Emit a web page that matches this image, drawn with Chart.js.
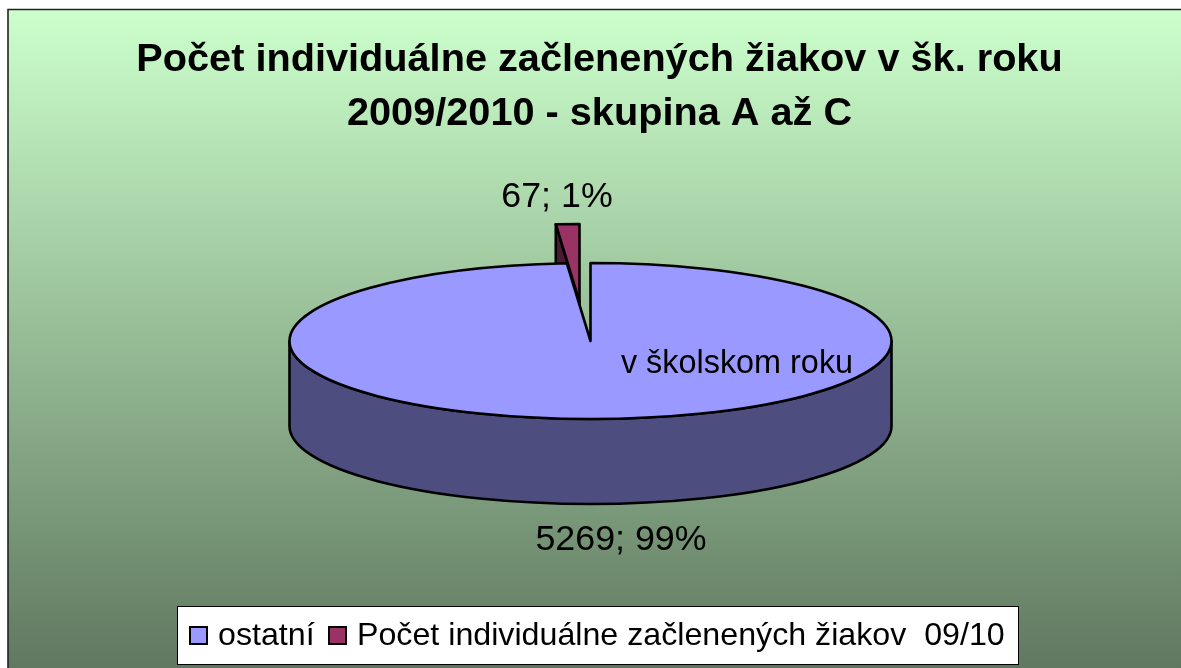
<!DOCTYPE html>
<html><head><meta charset="utf-8">
<style>html,body{margin:0;padding:0;background:#fff}canvas{display:block}</style>
<script src="https://cdn.jsdelivr.net/npm/chart.js@4"></script>
</head><body><canvas id="c" width="1181" height="668"></canvas>
<script>
const categories = ['ostatní', 'Počet individuálne začlenených žiakov  09/10'];
const values = [5269, 67];
const percentLabels = ['99%', '1%'];
const titleLines = ['Počet individuálne začlenených žiakov v šk. roku', '2009/2010 - skupina A až C'];
const seriesName = 'v školskom roku';
const topColors = ['#9999FF', '#993366'];
const wallColors = ['#4D4D80', '#4D1A33'];

const FONT = '"Liberation Sans", Arial, sans-serif';
const PIE = {cx: 590.5, cy: 341, r: 301, squash: 78 / 301, depth: 85, exDx: -11, exDy: -39};
const LABELS = [{x: 621, y: 540}, {x: 557, y: 197}];
const LINE = 2.6;

function place(ctx, a, dx, dy) {
  ctx.translate(PIE.cx + dx, PIE.cy + dy);
  ctx.scale(1, PIE.squash);
  ctx.translate(-a.x, -a.y);
}
function strokeIso(ctx, w) { ctx.lineWidth = w; ctx.strokeStyle = '#000'; ctx.lineJoin = 'round'; ctx.stroke(); }
function drawTop(ctx, a, dx, dy) {
  ctx.save(); place(ctx, a, dx, dy); a.draw(ctx);
  ctx.beginPath(); ctx.moveTo(a.x, a.y); ctx.arc(a.x, a.y, a.outerRadius, a.startAngle, a.endAngle); ctx.closePath();
  ctx.restore(); strokeIso(ctx, LINE);
}
function frontWall(ctx, a, color) {
  ctx.beginPath();
  ctx.save(); place(ctx, a, 0, PIE.depth); ctx.arc(a.x, a.y, a.outerRadius, 0, Math.PI); ctx.restore();
  ctx.save(); place(ctx, a, 0, 0); ctx.arc(a.x, a.y, a.outerRadius, Math.PI, 0, true); ctx.restore();
  ctx.closePath(); ctx.fillStyle = color; ctx.fill(); strokeIso(ctx, LINE);
}
function cutWall(ctx, a, dx, dy, color) {
  const ex = a.x + a.outerRadius * Math.cos(a.startAngle), ey = a.y + a.outerRadius * Math.sin(a.startAngle);
  ctx.beginPath();
  ctx.save(); place(ctx, a, dx, dy); ctx.moveTo(ex, ey); ctx.lineTo(a.x, a.y); ctx.restore();
  ctx.save(); place(ctx, a, dx, dy + PIE.depth); ctx.lineTo(a.x, a.y); ctx.lineTo(ex, ey); ctx.restore();
  ctx.closePath(); ctx.fillStyle = color; ctx.fill(); strokeIso(ctx, LINE);
}

const pie3d = {
  id: 'pie3d',
  beforeDraw(chart) {
    const ctx = chart.ctx;
    ctx.save();
    ctx.fillStyle = '#fff'; ctx.fillRect(0, 0, chart.width, chart.height);
    const g = ctx.createLinearGradient(0, 10, 0, 668);
    g.addColorStop(0, '#CCFFCC'); g.addColorStop(1, '#607860');
    ctx.fillStyle = g; ctx.fillRect(8, 10, chart.width, chart.height);
    ctx.beginPath(); ctx.moveTo(8, 668); ctx.lineTo(8, 9.5); ctx.lineTo(1181, 9.5);
    ctx.lineWidth = 1.6; ctx.strokeStyle = '#222'; ctx.stroke();
    ctx.restore();
  },
  beforeDatasetDraw(chart, args) {
    const ctx = chart.ctx;
    const [big, small] = chart.getDatasetMeta(args.index).data;
    ctx.save();
    cutWall(ctx, small, PIE.exDx, PIE.exDy, wallColors[1]);
    drawTop(ctx, small, PIE.exDx, PIE.exDy);
    frontWall(ctx, big, wallColors[0]);
    drawTop(ctx, big, 0, 0);
    ctx.restore();
    return false;
  },
  afterDraw(chart) {
    const ctx = chart.ctx;
    ctx.save();
    ctx.fillStyle = '#000'; ctx.textBaseline = 'middle'; ctx.textAlign = 'center';
    ctx.font = '35.8px ' + FONT;
    values.forEach((v, i) => ctx.fillText(v + '; ' + percentLabels[i], LABELS[i].x, LABELS[i].y));
    ctx.font = '32.4px ' + FONT;
    ctx.fillText(seriesName, 737, 364);
    // legend
    ctx.fillStyle = '#fff'; ctx.fillRect(178, 606, 840, 58);
    ctx.strokeStyle = '#000'; ctx.lineWidth = 1; ctx.strokeRect(177.5, 606.5, 841, 58);
    ctx.font = '32.2px ' + FONT; ctx.textAlign = 'left';
    const boxX = [190, 329], textX = [218, 357];
    categories.forEach((c, i) => {
      ctx.fillStyle = topColors[i]; ctx.fillRect(boxX[i], 627, 17, 17);
      ctx.strokeStyle = '#000'; ctx.lineWidth = 2; ctx.strokeRect(boxX[i], 627, 17, 17);
      ctx.fillStyle = '#000'; ctx.fillText(c, textX[i], 636);
    });
    ctx.restore();
  }
};

new Chart(document.getElementById('c'), {
  type: 'pie',
  data: {labels: categories, datasets: [{data: values, backgroundColor: topColors, borderWidth: 0, radius: PIE.r}]},
  options: {
    responsive: false, animation: false,
    layout: {padding: {left: 18, top: 33}},
    plugins: {
      legend: {display: false}, tooltip: {enabled: false},
      title: {display: true, text: titleLines, color: '#000', padding: {top: 0, bottom: 10},
        font: {family: FONT, size: 39.7, weight: 'bold', lineHeight: 1.36}}
    }
  },
  plugins: [pie3d]
});
</script></body></html>
